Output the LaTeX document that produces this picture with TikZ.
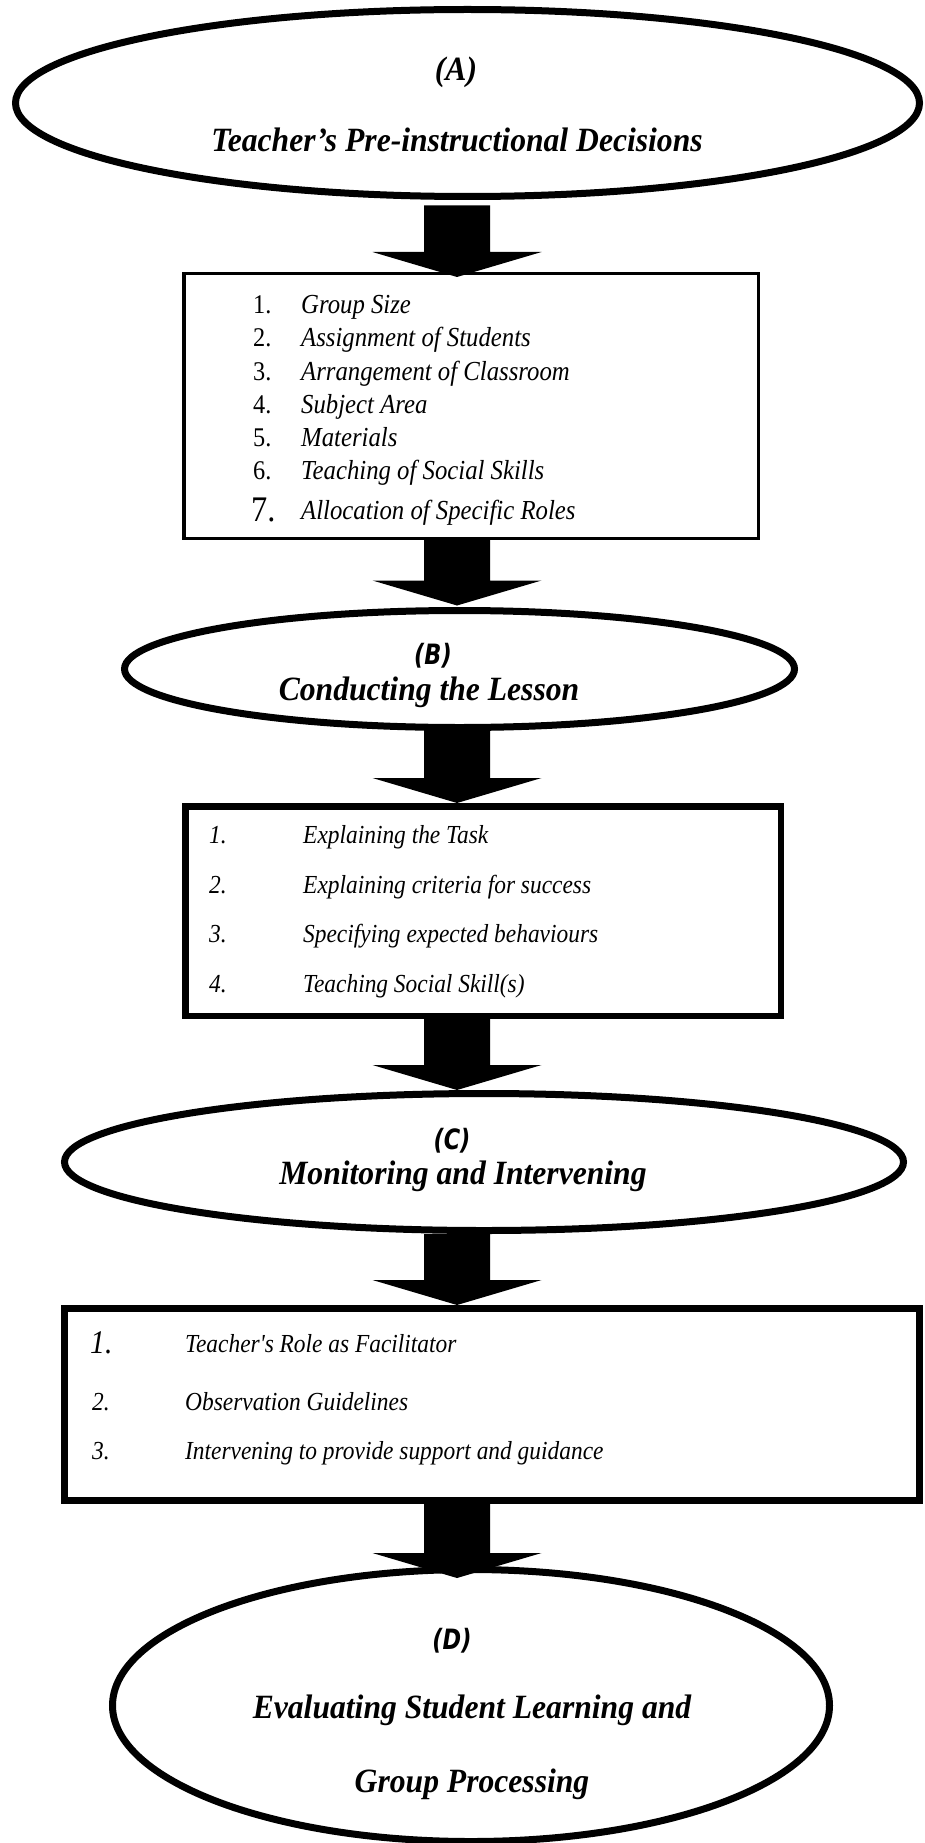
\documentclass[tikz,border=0pt]{standalone}
\usepackage{fontspec}
\usetikzlibrary{shapes.geometric,calc}
\newfontfamily\ttlfont[FakeStretch=0.93]{Liberation Serif}
\newfontfamily\lblfont[FakeStretch=0.8]{DejaVu Sans}
\newfontfamily\lstfont[FakeStretch=0.9]{Liberation Serif}
\newcommand\blockarrow[4]{%
  \fill ($(#1 -| ax)+(-33,#3)$) -- ($(#2 -| ax)+(-33,#4-25)$) -- ($(#2 -| ax)+(-84.5,#4-25)$)
     -- ($(#2 -| ax)+(0,#4)$) -- ($(#2 -| ax)+(84.5,#4-25)$) -- ($(#2 -| ax)+(33,#4-25)$)
     -- ($(#1 -| ax)+(33,#3)$) -- cycle;}
\begin{document}
\begin{tikzpicture}[x=1pt,y=-1pt,
  oval/.style={draw, ellipse, line width=7pt, inner sep=0pt, fill=white},
  listbox/.style={draw, rectangle, inner sep=0pt, fill=white},
  ttl/.style={inner sep=0pt, anchor=base, font=\ttlfont\bfseries\itshape\fontsize{34}{40}\selectfont},
  lbl/.style={inner sep=0pt, anchor=base, font=\lblfont\bfseries\itshape\fontsize{28}{32}\selectfont},
  num/.style={inner sep=0pt, anchor=base west, font=\lstfont\fontsize{27}{30}\selectfont},
  inum/.style={inner sep=0pt, anchor=base west, font=\lstfont\itshape\fontsize{26}{30}\selectfont},
  item/.style={inner sep=0pt, anchor=base west, font=\lstfont\itshape\fontsize{26}{30}\selectfont},
  itemA/.style={inner sep=0pt, anchor=base west, font=\lstfont\itshape\fontsize{27.5}{30}\selectfont}]
\useasboundingbox (0,0) rectangle (925,1843);
\coordinate (ax) at (457,0);

% nodes
\node[oval, minimum width=904, minimum height=187] (A) at (467.5,103) {};
\node[listbox, line width=3.5pt, minimum width=574.5, minimum height=264.5] (b1) at (471,406) {};
\node[oval, minimum width=670, minimum height=117] (B) at (459.5,669) {};
\node[listbox, line width=6.5pt, minimum width=595.5, minimum height=209.5] (b2) at (483,911) {};
\node[oval, minimum width=839, minimum height=137] (C) at (484,1162) {};
\node[listbox, line width=7pt, minimum width=855, minimum height=192] (b3) at (492,1404.5) {};
\node[oval, minimum width=717, minimum height=272] (D) at (471,1705.5) {};

% arrows
\blockarrow{A.south}{b1.north}{5.5}{5}
\blockarrow{b1.south}{B.north}{-3}{-1.5}
\blockarrow{B.south}{b2.north}{-5.5}{0}
\blockarrow{b2.south}{C.north}{-3}{0}
\blockarrow{C.south}{b3.north}{0}{0}
\blockarrow{b3.south}{D.north}{-3}{12}

% A
\node[ttl] (tA1) at (456,81) {(A)};
\node[ttl] (tA2) at (457,152) {Teacher’s Pre-instructional Decisions};
% box 1
\node[num] (n11) at (253,313) {1.};
\node[itemA] (i11) at (301,313) {Group Size};
\node[num] (n12) at (253,346) {2.};
\node[itemA] (i12) at (301,346) {Assignment of Students};
\node[num] (n13) at (253,380) {3.};
\node[itemA] (i13) at (301,380) {Arrangement of Classroom};
\node[num] (n14) at (253,413) {4.};
\node[itemA] (i14) at (301,413) {Subject Area};
\node[num] (n15) at (253,446) {5.};
\node[itemA] (i15) at (301,446) {Materials};
\node[num] (n16) at (253,479) {6.};
\node[itemA] (i16) at (301,479) {Teaching of Social Skills};
\node[num, font=\lstfont\fontsize{36}{40}\selectfont] (n17) at (251,521) {7.};
\node[itemA] (i17) at (301,519) {Allocation of Specific Roles};
% B
\node[lbl] (tB1) at (433,664) {(B)};
\node[ttl] (tB2) at (429,700) {Conducting the Lesson};
% box 2
\node[inum] (n21) at (209,843) {1.};
\node[item] (i21) at (303,843) {Explaining the Task};
\node[inum] (n22) at (209,893) {2.};
\node[item] (i22) at (303,893) {Explaining criteria for success};
\node[inum] (n23) at (209,942) {3.};
\node[item] (i23) at (303,942) {Specifying expected behaviours};
\node[inum] (n24) at (209,992) {4.};
\node[item] (i24) at (303,992) {Teaching Social Skill(s)};
% C
\node[lbl] (tC1) at (452,1149) {(C)};
\node[ttl] (tC2) at (463,1184) {Monitoring and Intervening};
% box 3
\node[inum, font=\lstfont\itshape\fontsize{33}{36}\selectfont] (n31) at (90,1353) {1.};
\node[item] (i31) at (185,1352) {Teacher's Role as Facilitator};
\node[inum] (n32) at (92,1410) {2.};
\node[item] (i32) at (185,1410) {Observation Guidelines};
\node[inum] (n33) at (92,1459) {3.};
\node[item] (i33) at (185,1459) {Intervening to provide support and guidance};
% D
\node[lbl] (tD1) at (452,1649) {(D)};
\node[ttl] (tD2) at (472,1718) {Evaluating Student Learning and};
\node[ttl] (tD3) at (472,1792) {Group Processing};
\end{tikzpicture}
\end{document}
